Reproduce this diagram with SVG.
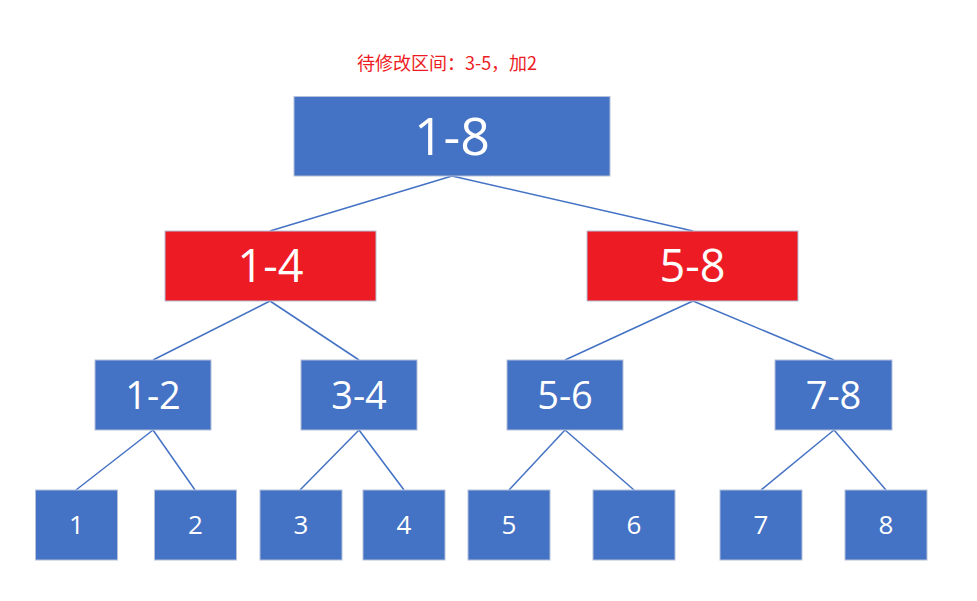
<svg xmlns="http://www.w3.org/2000/svg" width="977" height="601" viewBox="0 0 977 601">
<style>
.b{fill:#4472C4;stroke:#B4C1D9;stroke-width:1}
.r{fill:#ED1C24;stroke:#B4C1D9;stroke-width:1}
.t{fill:#fff;font-family:"Open Sans","Noto Sans",sans-serif;text-anchor:middle}
.c line{stroke:#4472C4;stroke-width:1.5}
</style>
<rect width="977" height="601" fill="#fff"/>
<text x="447" y="70" fill="#ED1C24" font-size="18" text-anchor="middle" font-family="'Noto Sans CJK SC',sans-serif">待修改区间：3-5，加2</text>
<g class="c" id="connectors">
<line x1="452" y1="176" x2="270" y2="231"/>
<line x1="452" y1="176" x2="693" y2="231"/>
<line x1="270" y1="301" x2="153" y2="360"/>
<line x1="270" y1="301" x2="359" y2="360"/>
<line x1="693" y1="301" x2="565" y2="360"/>
<line x1="693" y1="301" x2="834" y2="360"/>
<line x1="153" y1="430" x2="76" y2="490"/>
<line x1="153" y1="430" x2="195" y2="490"/>
<line x1="359" y1="430" x2="300" y2="490"/>
<line x1="359" y1="430" x2="404" y2="490"/>
<line x1="565" y1="430" x2="509" y2="490"/>
<line x1="565" y1="430" x2="634" y2="490"/>
<line x1="834" y1="430" x2="761" y2="490"/>
<line x1="834" y1="430" x2="886" y2="490"/>
</g>
<g id="n1-8"><rect class="b" x="294" y="96.5" width="316" height="79.5"/><text class="t" x="452" y="155" font-size="52">1-8</text></g>
<g id="n1-4"><rect class="r" x="165" y="231" width="211" height="70"/><text class="t" x="270.5" y="282" font-size="45">1-4</text></g>
<g id="n5-8"><rect class="r" x="587" y="231" width="211" height="70"/><text class="t" x="692.5" y="282" font-size="45">5-8</text></g>
<g id="n1-2"><rect class="b" x="95" y="360" width="116" height="70"/><text class="t" x="153" y="408.5" font-size="38">1-2</text></g>
<g id="n3-4"><rect class="b" x="301" y="360" width="116" height="70"/><text class="t" x="359" y="408.5" font-size="38">3-4</text></g>
<g id="n5-6"><rect class="b" x="507" y="360" width="116" height="70"/><text class="t" x="565" y="408.5" font-size="38">5-6</text></g>
<g id="n7-8"><rect class="b" x="775" y="360" width="117" height="70"/><text class="t" x="833.5" y="408.5" font-size="38">7-8</text></g>
<g id="n1"><rect class="b" x="35.5" y="490" width="82" height="70"/><text class="t" x="76.5" y="534" font-size="26">1</text></g>
<g id="n2"><rect class="b" x="154.5" y="490" width="82" height="70"/><text class="t" x="195.5" y="534" font-size="26">2</text></g>
<g id="n3"><rect class="b" x="260" y="490" width="82" height="70"/><text class="t" x="301" y="534" font-size="26">3</text></g>
<g id="n4"><rect class="b" x="363" y="490" width="82" height="70"/><text class="t" x="404" y="534" font-size="26">4</text></g>
<g id="n5"><rect class="b" x="468" y="490" width="82" height="70"/><text class="t" x="509" y="534" font-size="26">5</text></g>
<g id="n6"><rect class="b" x="593" y="490" width="82" height="70"/><text class="t" x="634" y="534" font-size="26">6</text></g>
<g id="n7"><rect class="b" x="720" y="490" width="82" height="70"/><text class="t" x="761" y="534" font-size="26">7</text></g>
<g id="n8"><rect class="b" x="845" y="490" width="82" height="70"/><text class="t" x="886" y="534" font-size="26">8</text></g>
</svg>
